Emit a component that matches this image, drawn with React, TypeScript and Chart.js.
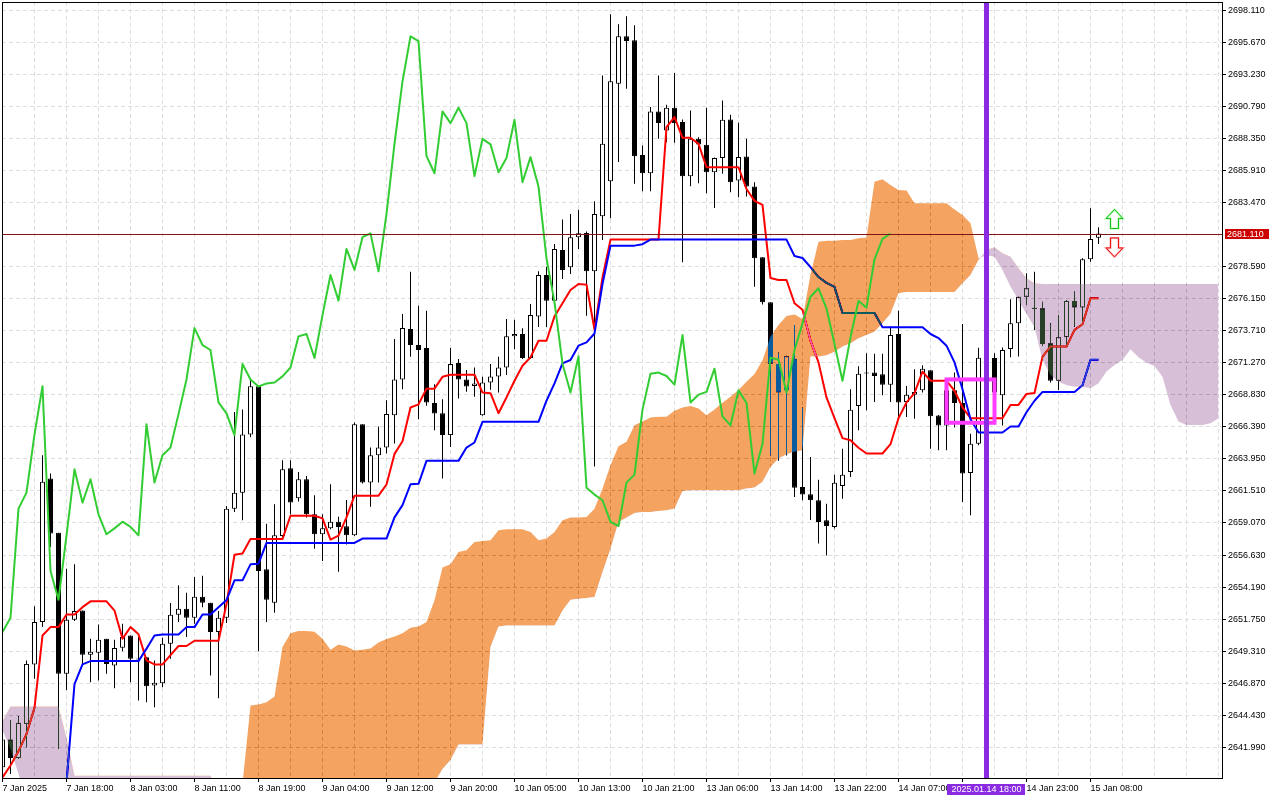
import React, { useEffect, useRef } from 'react';
import { Chart, registerables } from 'chart.js';

Chart.register(...registerables);

// ---------------- data ----------------
const xLabels = ['7 Jan 2025', '7 Jan 18:00', '8 Jan 03:00', '8 Jan 11:00', '8 Jan 19:00', '9 Jan 04:00',
  '9 Jan 12:00', '9 Jan 20:00', '10 Jan 05:00', '10 Jan 13:00', '10 Jan 21:00', '13 Jan 06:00',
  '13 Jan 14:00', '13 Jan 22:00', '14 Jan 07:00', '14 Jan 15:00', '14 Jan 23:00', '15 Jan 08:00'];
const BARS_PER_LABEL = 8;
const BARS_PER_GRID = 4;

const yTicks = [2698.110, 2695.670, 2693.230, 2690.790, 2688.350, 2685.910, 2683.470, 2678.590, 2676.150,
  2673.710, 2671.270, 2668.830, 2666.390, 2663.950, 2661.510, 2659.070, 2656.630, 2654.190, 2651.750,
  2649.310, 2646.870, 2644.430, 2641.990];

const opens = [
  2640.46, 2642.58, 2641.17, 2643.77, 2648.29, 2651.52, 2662.45, 2658.33, 2647.58, 2651.70,
  2652.41, 2649.03, 2649.18, 2650.25, 2648.22, 2649.56, 2650.51, 2648.73, 2648.85, 2646.69,
  2646.87, 2649.87, 2652.08, 2652.54, 2651.85, 2653.45, 2652.99, 2650.76, 2651.85, 2660.16,
  2661.38, 2665.81, 2669.49, 2655.54, 2652.99, 2658.08, 2663.24, 2660.95, 2662.40, 2659.73,
  2658.21, 2658.66, 2659.17, 2658.82, 2658.13, 2666.59, 2662.15, 2664.23, 2664.81, 2667.28,
  2670.00, 2673.84, 2672.62, 2672.39, 2668.20, 2667.43, 2665.76, 2671.25, 2670.00, 2669.50,
  2667.28, 2669.77, 2670.23, 2670.91, 2673.28, 2673.46, 2671.63, 2674.80, 2677.95, 2676.00,
  2679.86, 2678.54, 2680.83, 2681.16, 2678.23, 2682.43, 2685.10, 2692.52, 2696.13, 2695.82,
  2687.10, 2685.70, 2690.41, 2688.96, 2690.69, 2689.60, 2685.48, 2688.32, 2687.87, 2685.78,
  2686.87, 2689.80, 2685.15, 2686.98, 2684.69, 2679.30, 2675.87, 2671.17, 2669.17, 2671.58,
  2661.80, 2661.25, 2660.80, 2659.28, 2658.77, 2661.89, 2662.95, 2667.98, 2670.46, 2670.52,
  2670.39, 2669.60, 2673.46, 2668.28, 2668.84, 2669.17, 2670.70, 2667.25, 2666.50, 2669.17,
  2668.21, 2662.88, 2665.11, 2671.66, 2671.63, 2668.80, 2672.31, 2674.27, 2676.30, 2675.42,
  2675.42, 2672.75, 2669.90, 2673.21, 2675.98, 2675.47, 2679.15, 2680.79,
];
const highs = [
  2642.80, 2644.07, 2644.35, 2648.60, 2652.72, 2664.23, 2662.83, 2658.33, 2655.59, 2655.92,
  2652.41, 2650.25, 2651.34, 2650.25, 2650.17, 2651.40, 2650.51, 2650.38, 2648.85, 2648.60,
  2650.33, 2652.97, 2654.32, 2653.76, 2654.95, 2655.05, 2652.99, 2652.36, 2660.37, 2667.53,
  2667.71, 2669.95, 2669.49, 2659.02, 2660.50, 2663.85, 2663.85, 2662.96, 2662.65, 2661.18,
  2659.73, 2662.02, 2659.55, 2660.82, 2666.72, 2666.59, 2664.81, 2666.42, 2668.42, 2673.08,
  2674.98, 2678.21, 2675.62, 2675.24, 2669.64, 2668.50, 2672.39, 2671.55, 2670.71, 2670.91,
  2670.20, 2671.17, 2671.73, 2674.60, 2674.55, 2673.89, 2675.75, 2678.23, 2678.59, 2680.32,
  2682.17, 2682.60, 2682.93, 2681.26, 2683.57, 2693.15, 2697.80, 2697.04, 2697.65, 2696.97,
  2687.82, 2690.74, 2693.15, 2690.92, 2693.33, 2689.80, 2690.48, 2688.45, 2690.69, 2686.90,
  2691.25, 2690.15, 2689.54, 2688.32, 2685.02, 2679.30, 2675.87, 2672.06, 2671.80, 2674.15,
  2667.87, 2664.10, 2662.37, 2660.54, 2662.75, 2664.73, 2669.25, 2671.00, 2672.00, 2671.96,
  2671.96, 2674.04, 2675.24, 2669.50, 2670.77, 2671.08, 2670.70, 2667.30, 2669.40, 2670.53,
  2674.22, 2665.87, 2672.42, 2672.50, 2672.00, 2672.44, 2676.10, 2676.30, 2678.08, 2678.20,
  2675.92, 2674.27, 2674.91, 2676.05, 2676.69, 2679.22, 2683.04, 2681.59,
];
const lows = [
  2640.00, 2639.96, 2641.10, 2641.99, 2647.20, 2651.14, 2657.24, 2641.86, 2646.36, 2651.60,
  2648.34, 2646.95, 2647.07, 2647.58, 2646.49, 2649.31, 2646.95, 2645.55, 2645.42, 2645.04,
  2646.56, 2648.73, 2651.52, 2650.38, 2651.40, 2652.66, 2647.45, 2645.73, 2651.45, 2659.91,
  2659.27, 2665.60, 2649.31, 2651.52, 2652.23, 2657.83, 2659.73, 2660.70, 2659.48, 2657.11,
  2656.17, 2658.60, 2655.36, 2657.44, 2658.08, 2662.07, 2660.30, 2662.15, 2664.36, 2665.12,
  2669.26, 2671.73, 2666.97, 2668.00, 2666.14, 2662.45, 2664.86, 2668.55, 2669.06, 2668.68,
  2667.23, 2669.21, 2669.01, 2670.33, 2672.29, 2671.55, 2671.55, 2674.00, 2674.00, 2675.60,
  2677.65, 2678.03, 2679.94, 2674.85, 2663.37, 2680.62, 2682.27, 2686.55, 2692.14, 2684.90,
  2684.33, 2684.33, 2688.32, 2688.07, 2688.02, 2678.92, 2684.72, 2684.94, 2684.18, 2683.06,
  2685.66, 2684.26, 2683.88, 2683.93, 2677.06, 2675.70, 2664.20, 2663.80, 2664.20, 2661.05,
  2660.80, 2659.30, 2657.50, 2656.60, 2658.64, 2660.92, 2662.57, 2666.13, 2667.65, 2668.28,
  2668.79, 2668.28, 2667.14, 2667.14, 2667.00, 2669.00, 2664.73, 2664.60, 2664.60, 2666.34,
  2660.67, 2659.65, 2664.98, 2670.40, 2668.50, 2666.50, 2671.69, 2671.74, 2675.67, 2673.77,
  2672.55, 2669.76, 2669.20, 2672.50, 2674.02, 2674.27, 2678.97, 2680.32,
];
const closes = [
  2642.58, 2641.17, 2643.85, 2648.34, 2651.52, 2662.20, 2658.26, 2647.58, 2651.70, 2652.36,
  2649.03, 2649.26, 2650.17, 2648.34, 2649.54, 2650.38, 2648.73, 2648.70, 2646.64, 2646.90,
  2649.87, 2652.08, 2652.54, 2651.85, 2653.45, 2652.99, 2650.76, 2651.85, 2660.16, 2661.38,
  2665.81, 2669.49, 2655.41, 2653.22, 2658.13, 2663.16, 2660.62, 2662.40, 2659.73, 2658.21,
  2658.66, 2659.17, 2658.77, 2658.13, 2666.59, 2662.15, 2664.23, 2664.81, 2667.36, 2670.00,
  2673.91, 2672.62, 2672.24, 2668.25, 2667.41, 2665.76, 2671.17, 2670.00, 2669.47, 2669.69,
  2669.77, 2670.23, 2670.91, 2673.28, 2673.46, 2671.63, 2674.90, 2677.95, 2676.00, 2679.94,
  2678.34, 2680.83, 2681.13, 2678.23, 2682.60, 2687.94, 2692.70, 2696.13, 2695.77, 2687.00,
  2685.70, 2690.41, 2689.52, 2690.69, 2689.52, 2685.48, 2688.32, 2687.90, 2685.78, 2686.87,
  2689.77, 2685.02, 2686.93, 2684.69, 2679.22, 2675.87, 2671.20, 2669.01, 2671.76, 2661.76,
  2661.23, 2660.80, 2659.15, 2658.84, 2662.14, 2662.75, 2667.70, 2670.44, 2670.52, 2670.26,
  2669.60, 2673.38, 2668.25, 2668.84, 2669.05, 2670.82, 2667.19, 2666.50, 2669.17, 2668.21,
  2662.83, 2665.11, 2671.66, 2671.50, 2669.00, 2672.24, 2674.27, 2676.30, 2676.94, 2675.40,
  2672.70, 2669.90, 2673.21, 2675.98, 2675.47, 2679.15, 2680.70, 2681.11,
];

const tenkan = [
  2639.70, 2640.60, 2641.70, 2643.00, 2645.00, 2650.50, 2651.14, 2651.14, 2652.10, 2652.10,
  2652.66, 2653.10, 2653.10, 2653.10, 2652.40, 2650.25, 2651.14, 2650.60, 2648.60, 2648.30,
  2648.30, 2649.00, 2649.70, 2649.70, 2650.10, 2650.10, 2650.10, 2650.10, 2652.90, 2656.65,
  2656.75, 2657.85, 2657.85, 2657.85, 2657.85, 2657.85, 2659.62, 2659.62, 2659.62, 2659.62,
  2659.42, 2657.80, 2658.10, 2659.50, 2661.15, 2661.15, 2661.15, 2661.15, 2662.00, 2664.33,
  2665.30, 2667.86, 2668.10, 2669.30, 2669.30, 2670.20, 2670.36, 2670.36, 2670.36, 2670.36,
  2669.00, 2668.95, 2667.43, 2668.63, 2669.90, 2671.04, 2671.68, 2672.95, 2672.95, 2674.80,
  2675.80, 2676.81, 2677.27, 2677.22, 2673.80, 2677.77, 2680.65, 2680.65, 2680.65, 2680.65,
  2680.65, 2680.65, 2680.65, 2689.21, 2689.98, 2688.40, 2688.40, 2687.94, 2686.16, 2686.16,
  2686.16, 2686.16, 2686.16, 2684.50, 2683.60, 2683.30, 2677.72, 2677.57, 2677.57, 2675.80,
  2675.30, 2672.95, 2671.30, 2668.63, 2667.05, 2665.53, 2665.37, 2664.80, 2664.36, 2664.36,
  2664.36, 2665.07, 2667.05, 2668.25, 2668.96, 2670.60, 2669.90, 2669.90, 2669.90, 2669.14,
  2667.87, 2667.05, 2667.05, 2667.05, 2667.05, 2667.05, 2668.06, 2668.06, 2668.90, 2668.96,
  2671.74, 2672.50, 2672.50, 2672.50, 2673.77, 2674.20, 2676.18, 2676.18,
];
const kijun = [
  2638.00, 2638.00, 2638.00, 2638.00, 2638.00, 2638.00, 2638.00, 2638.00, 2639.30, 2646.80,
  2648.30, 2648.55, 2648.55, 2648.55, 2648.55, 2648.55, 2648.55, 2648.55, 2649.50, 2650.50,
  2650.58, 2650.58, 2650.58, 2651.14, 2651.14, 2652.10, 2652.10, 2652.66, 2653.20, 2654.70,
  2654.70, 2655.92, 2655.97, 2657.55, 2657.55, 2657.55, 2657.55, 2657.55, 2657.55, 2657.55,
  2657.55, 2657.55, 2657.55, 2657.55, 2657.55, 2657.88, 2657.88, 2657.88, 2657.88, 2659.50,
  2660.43, 2662.02, 2662.05, 2663.80, 2663.80, 2663.80, 2663.80, 2663.80, 2664.81, 2665.20,
  2666.77, 2666.77, 2666.77, 2666.77, 2666.77, 2666.77, 2666.77, 2666.77, 2668.38, 2669.70,
  2671.22, 2671.48, 2672.57, 2672.82, 2673.50, 2677.27, 2680.19, 2680.19, 2680.19, 2680.19,
  2680.30, 2680.65, 2680.65, 2680.65, 2680.65, 2680.65, 2680.65, 2680.65, 2680.65, 2680.65,
  2680.65, 2680.65, 2680.65, 2680.65, 2680.65, 2680.65, 2680.65, 2680.65, 2680.65, 2679.40,
  2679.25, 2678.55, 2677.80, 2677.35, 2677.05, 2675.06, 2675.06, 2675.06, 2675.06, 2675.06,
  2673.97, 2673.97, 2673.97, 2673.97, 2673.97, 2673.97, 2673.46, 2673.15, 2672.57, 2671.30,
  2669.26, 2666.97, 2665.96, 2665.96, 2665.96, 2665.96, 2666.42, 2666.42, 2667.50, 2668.38,
  2669.05, 2669.05, 2669.05, 2669.05, 2669.05, 2669.55, 2671.50, 2671.50,
];

// Senkou spans, already shifted forward (index = bar on the chart)
const spanA = [
  2643.30, 2641.86, 2639.96, 2638.00, 2638.00, 2638.00, 2638.00, 2638.00, 2638.00, 2638.00,
  2638.00, 2638.00, 2638.00, 2638.00, 2638.00, 2638.00, 2638.00, 2638.00, 2638.00, 2638.00,
  2638.00, 2638.00, 2638.00, 2638.00, 2638.00, 2638.00, 2638.00, 2638.00, 2638.00, 2638.00,
  2639.20, 2645.17, 2645.25, 2645.42, 2645.86, 2649.62, 2650.68, 2650.84, 2650.84, 2650.79,
  2650.25, 2649.41, 2649.82, 2649.67, 2649.36, 2649.41, 2649.52, 2649.97, 2650.23, 2650.43,
  2650.68, 2651.09, 2651.19, 2651.52, 2653.18, 2655.67, 2655.92, 2656.86, 2656.99, 2657.62,
  2657.70, 2657.75, 2658.51, 2658.59, 2658.59, 2658.59, 2658.39, 2657.75, 2657.88, 2658.39,
  2659.27, 2659.48, 2659.48, 2659.53, 2660.16, 2661.69, 2663.47, 2664.92, 2665.25, 2666.52,
  2666.80, 2667.10, 2667.15, 2667.15, 2667.61, 2667.87, 2667.97, 2667.79, 2667.28, 2667.71,
  2668.22, 2668.68, 2669.19, 2669.82, 2670.41, 2671.47, 2673.25, 2674.14, 2674.83, 2674.95,
  2674.60, 2678.00, 2680.49, 2680.57, 2680.57, 2680.62, 2680.62, 2680.75, 2680.80, 2685.06,
  2685.24, 2684.81, 2684.43, 2684.38, 2683.41, 2683.41, 2683.41, 2683.41, 2683.41, 2682.95,
  2682.52, 2681.89, 2679.22, 2679.45, 2679.35, 2678.34, 2677.07, 2676.05, 2674.99, 2673.97,
  2671.48, 2670.34, 2669.83, 2669.58, 2669.45, 2669.45, 2669.33, 2669.71, 2670.60, 2671.10,
  2671.48, 2672.30, 2671.69, 2671.28, 2671.03, 2670.21, 2668.06, 2666.79, 2666.53, 2666.53,
  2666.53, 2666.66, 2667.04,
];
const spanB = [
  2644.00, 2645.09, 2645.09, 2645.09, 2645.09, 2645.09, 2645.09, 2645.09, 2642.70, 2639.83,
  2639.83, 2639.83, 2639.83, 2639.83, 2639.83, 2639.83, 2639.83, 2639.83, 2639.83, 2639.83,
  2639.83, 2639.83, 2639.83, 2639.83, 2639.83, 2639.83, 2639.83, 2638.50, 2638.50, 2638.50,
  2638.50, 2638.50, 2638.50, 2638.50, 2638.50, 2638.50, 2638.50, 2638.50, 2638.50, 2638.50,
  2638.50, 2638.50, 2638.50, 2638.50, 2638.50, 2638.50, 2638.50, 2638.50, 2638.50, 2638.50,
  2638.50, 2638.50, 2638.50, 2638.50, 2639.30, 2640.34, 2641.03, 2642.20, 2642.20, 2642.20,
  2642.20, 2649.62, 2651.19, 2651.27, 2651.27, 2651.27, 2651.27, 2651.27, 2651.27, 2651.27,
  2652.41, 2653.23, 2653.30, 2653.35, 2653.43, 2655.34, 2657.11, 2659.15, 2659.48, 2659.83,
  2659.91, 2659.91, 2659.99, 2660.04, 2660.17, 2661.51, 2661.56, 2661.56, 2661.56, 2661.56,
  2661.56, 2661.56, 2661.56, 2661.69, 2661.77, 2662.20, 2663.34, 2663.98, 2664.31, 2664.49,
  2664.60, 2671.74, 2671.74, 2671.85, 2672.10, 2672.50, 2672.75, 2673.13, 2673.39, 2673.64,
  2674.27, 2675.00, 2676.56, 2676.65, 2676.65, 2676.65, 2676.65, 2676.65, 2676.65, 2676.65,
  2677.32, 2677.95, 2679.10, 2679.86, 2680.06, 2679.60, 2679.35, 2678.46, 2677.70, 2677.32,
  2677.27, 2677.27, 2677.27, 2677.27, 2677.27, 2677.27, 2677.27, 2677.27, 2677.27, 2677.27,
  2677.27, 2677.27, 2677.27, 2677.27, 2677.27, 2677.27, 2677.27, 2677.27, 2677.27, 2677.27,
  2677.27, 2677.27, 2677.27,
];
const CHIKOU_SHIFT = 26;

// chart objects drawn on top of the data
const currentPrice = closes[closes.length - 1];
const vLineBar = 123;
const vLineLabel = '2025.01.14 18:00';
const boxBars = [118, 124];
const boxPrices = [2670.0, 2666.7];
const arrowBar = 139;
const arrowUpTip = 2682.94;
const arrowDownTip = 2679.33;

// axis window
const X_MIN = -0.0625;
const X_MAX = 152.4375;
const Y_MIN = 2639.65;
const Y_MAX = 2698.742;

// colours
const SANDY = [244, 164, 96];
const THISTLE = [216, 191, 216];
const inv = (c: number[]) => `rgb(${255 - c[0]},${255 - c[1]},${255 - c[2]})`;
const FONT = "'Liberation Sans', Arial, sans-serif";

const TENKAN_IDX = 2;
const KIJUN_IDX = 3;
const SPANA_IDX = 4;

function drawArrow(ctx: CanvasRenderingContext2D, cx: number, tipY: number, up: boolean, stroke: string, inner: string) {
  const s = up ? 1 : -1;
  const hw = 8.5, hh = 9, sw = 4, total = 19;
  ctx.beginPath();
  ctx.moveTo(cx, tipY);
  ctx.lineTo(cx + hw, tipY + s * hh);
  ctx.lineTo(cx + sw, tipY + s * hh);
  ctx.lineTo(cx + sw, tipY + s * total);
  ctx.lineTo(cx - sw, tipY + s * total);
  ctx.lineTo(cx - sw, tipY + s * hh);
  ctx.lineTo(cx - hw, tipY + s * hh);
  ctx.closePath();
  ctx.fillStyle = '#ffffff';
  ctx.fill();
  ctx.lineWidth = 2;
  ctx.strokeStyle = inner;
  ctx.stroke();
  ctx.lineWidth = 1;
  ctx.strokeStyle = stroke;
  ctx.stroke();
}

export default function App() {
  const ref = useRef<HTMLCanvasElement | null>(null);

  useEffect(() => {
    document.body.style.margin = '0';
    const canvas = ref.current;
    if (!canvas) return;
    Chart.defaults.font.family = FONT;
    Chart.defaults.font.size = 9;
    Chart.defaults.color = '#000000';

    const wicks = lows.map((l, i) => ({ x: i, y: [l, highs[i]] }));
    const bodies = opens.map((o, i) => {
      const c = closes[i];
      let lo = Math.min(o, c);
      let hi = Math.max(o, c);
      if (hi - lo < 0.08) { const m = (hi + lo) / 2; lo = m - 0.04; hi = m + 0.04; }
      return { x: i, y: [lo, hi] };
    });
    const bull = opens.map((o, i) => closes[i] >= o);
    const line = (arr: number[], offset = 0) => arr.map((v, i) => ({ x: i + offset, y: v }));
    const chikou = closes.slice(CHIKOU_SHIFT).map((v, i) => ({ x: i, y: v }));

    const bgPlugin = {
      id: 'whiteBg',
      beforeDraw(chart: any) {
        const { ctx, width, height } = chart;
        ctx.save();
        ctx.fillStyle = '#ffffff';
        ctx.fillRect(0, 0, width, height);
        ctx.restore();
      },
    };

    // the kumo is painted like the terminal does: inverted over what lies beneath
    const blendPlugin = {
      id: 'kumoBlend',
      afterDatasetDraw(chart: any, args: any) {
        if (args.index === KIJUN_IDX) {
          chart.ctx.save();
          chart.ctx.globalCompositeOperation = 'difference';
        } else if (args.index === SPANA_IDX) {
          chart.ctx.restore();
        }
      },
    };

    const overlayPlugin = {
      id: 'mtOverlay',
      afterDatasetsDraw(chart: any) {
        const { ctx, chartArea: a } = chart;
        const xs = chart.scales.x;
        const ys = chart.scales.y;
        ctx.save();
        ctx.beginPath();
        ctx.rect(a.left, a.top, a.right - a.left, a.bottom - a.top);
        ctx.clip();
        // price line
        const py = Math.round(ys.getPixelForValue(currentPrice)) + 0.5;
        ctx.strokeStyle = 'rgb(130,20,20)';
        ctx.lineWidth = 1;
        ctx.beginPath();
        ctx.moveTo(a.left, py);
        ctx.lineTo(a.right, py);
        ctx.stroke();
        // rectangle
        const rx1 = xs.getPixelForValue(boxBars[0]);
        const rx2 = xs.getPixelForValue(boxBars[1]);
        const ry1 = ys.getPixelForValue(boxPrices[0]);
        const ry2 = ys.getPixelForValue(boxPrices[1]);
        ctx.strokeStyle = 'rgb(255,60,255)';
        ctx.lineWidth = 4;
        ctx.strokeRect(rx1, ry1, rx2 - rx1, ry2 - ry1);
        // vertical line
        const vx = xs.getPixelForValue(vLineBar);
        ctx.fillStyle = 'rgb(138,43,226)';
        ctx.fillRect(Math.round(vx - 2.5), a.top, 5, a.bottom - a.top);
        // arrows
        const ax = xs.getPixelForValue(arrowBar);
        drawArrow(ctx, ax, ys.getPixelForValue(arrowUpTip), true, 'rgb(30,190,30)', 'rgb(170,255,170)');
        drawArrow(ctx, ax, ys.getPixelForValue(arrowDownTip), false, 'rgb(235,20,20)', 'rgb(255,170,170)');
        ctx.restore();
      },
      afterDraw(chart: any) {
        const { ctx, chartArea: a } = chart;
        const xs = chart.scales.x;
        const ys = chart.scales.y;
        ctx.save();
        // frame
        ctx.strokeStyle = '#000000';
        ctx.lineWidth = 1;
        ctx.strokeRect(a.left + 0.5, a.top + 0.5, a.right - a.left, a.bottom - a.top);
        ctx.font = `9px ${FONT}`;
        ctx.textBaseline = 'middle';
        // price label
        const py = ys.getPixelForValue(currentPrice);
        ctx.fillStyle = 'rgb(204,0,0)';
        ctx.fillRect(a.right + 3, Math.round(py) - 5, 44, 10);
        ctx.fillStyle = '#ffffff';
        ctx.textAlign = 'left';
        ctx.fillText(currentPrice.toFixed(3), a.right + 5, Math.round(py) + 0.5);
        // time label of the vertical line
        const vx = xs.getPixelForValue(vLineBar);
        const tw = ctx.measureText(vLineLabel).width + 8;
        ctx.fillStyle = 'rgb(138,43,226)';
        ctx.fillRect(Math.round(vx - tw / 2), a.bottom + 6, Math.round(tw), 11);
        ctx.fillStyle = '#ffffff';
        ctx.textAlign = 'center';
        ctx.fillText(vLineLabel, vx, a.bottom + 12);
        ctx.restore();
      },
    };

    const gridColor = 'rgb(222,222,222)';

    const chart = new Chart(canvas, {
      type: 'bar',
      data: {
        datasets: [
          {
            type: 'bar', label: 'wick', data: wicks as any, grouped: false, barThickness: 1,
            backgroundColor: '#000000', borderWidth: 0, inflateAmount: 0, order: 10,
          } as any,
          {
            type: 'bar', label: 'body', data: bodies as any, grouped: false, barThickness: 5,
            backgroundColor: bull.map((b) => (b ? '#ffffff' : '#000000')),
            borderColor: '#000000', borderWidth: 1, borderSkipped: false, inflateAmount: 0, order: 9,
          } as any,
          {
            type: 'line', label: 'Tenkan-sen', data: line(tenkan), borderColor: '#ff0000', borderWidth: 2,
            pointRadius: 0, tension: 0, borderJoinStyle: 'round', clip: 0, order: 8,
          } as any,
          {
            type: 'line', label: 'Kijun-sen', data: line(kijun), borderColor: '#0000ff', borderWidth: 2,
            pointRadius: 0, tension: 0, borderJoinStyle: 'round', clip: 0, order: 7,
          } as any,
          {
            type: 'line', label: 'Senkou Span A', data: line(spanA), borderWidth: 0, borderColor: 'rgba(0,0,0,0)',
            pointRadius: 0, tension: 0, clip: 0, order: 6,
            fill: { target: '+1', above: inv(SANDY), below: inv(THISTLE) },
          } as any,
          {
            type: 'line', label: 'Senkou Span B', data: line(spanB), borderWidth: 0, borderColor: 'rgba(0,0,0,0)',
            pointRadius: 0, tension: 0, clip: 0, order: 5, fill: false,
          } as any,
          {
            type: 'line', label: 'Chikou Span', data: chikou, borderColor: 'rgb(50,205,50)', borderWidth: 2,
            pointRadius: 0, tension: 0, borderJoinStyle: 'round', clip: 0, order: 4,
          } as any,
        ],
      },
      options: {
        responsive: false,
        animation: false,
        devicePixelRatio: 1,
        events: [],
        layout: { padding: { left: 2, top: 2, right: 0, bottom: 0 } },
        plugins: { legend: { display: false }, tooltip: { enabled: false }, title: { display: false } },
        scales: {
          x: {
            type: 'linear',
            position: 'bottom',
            min: X_MIN,
            max: X_MAX,
            offset: false,
            afterBuildTicks: (scale: any) => {
              const t = [];
              for (let v = 0; v <= X_MAX; v += BARS_PER_GRID) t.push({ value: v });
              scale.ticks = t;
            },
            afterFit: (scale: any) => {
              scale.height = 22;
              scale.paddingLeft = 0;
              scale.paddingRight = 0;
            },
            ticks: {
              autoSkip: false,
              maxRotation: 0,
              minRotation: 0,
              align: 'start',
              padding: 1,
              color: '#000000',
              font: { size: 9, family: FONT },
              callback: (v: any) => {
                const n = Number(v);
                if (n % BARS_PER_LABEL !== 0) return '';
                return xLabels[n / BARS_PER_LABEL] ?? '';
              },
            },
            grid: {
              color: gridColor,
              lineWidth: 1,
              offset: false,
              drawTicks: true,
              tickLength: 4,
              tickColor: (ctx: any) => {
                const n = ctx.tick ? ctx.tick.value : -1;
                return n % BARS_PER_LABEL === 0 && n / BARS_PER_LABEL < xLabels.length ? '#000000' : 'rgba(0,0,0,0)';
              },
            },
            border: { display: false, dash: [4, 3] },
          } as any,
          y: {
            type: 'linear',
            position: 'right',
            min: Y_MIN,
            max: Y_MAX,
            beginAtZero: false,
            afterBuildTicks: (scale: any) => {
              scale.ticks = yTicks.map((v) => ({ value: v }));
            },
            afterFit: (scale: any) => {
              scale.width = 58;
              scale.paddingTop = 0;
              scale.paddingBottom = 0;
            },
            ticks: {
              padding: 2,
              color: '#000000',
              font: { size: 9, family: FONT },
              callback: (v: any) => Number(v).toFixed(3),
            },
            grid: {
              color: gridColor,
              lineWidth: 1,
              drawTicks: true,
              tickLength: 4,
              tickColor: '#000000',
            },
            border: { display: false, dash: [4, 3] },
          } as any,
        },
      } as any,
      plugins: [bgPlugin, blendPlugin, overlayPlugin] as any,
    });

    return () => chart.destroy();
  }, []);

  return (
    <div style={{ width: 1280, height: 800, position: 'relative', background: '#ffffff', overflow: 'hidden' }}>
      <canvas ref={ref} width={1280} height={800} style={{ display: 'block', width: '1280px', height: '800px' }} />
    </div>
  );
}
